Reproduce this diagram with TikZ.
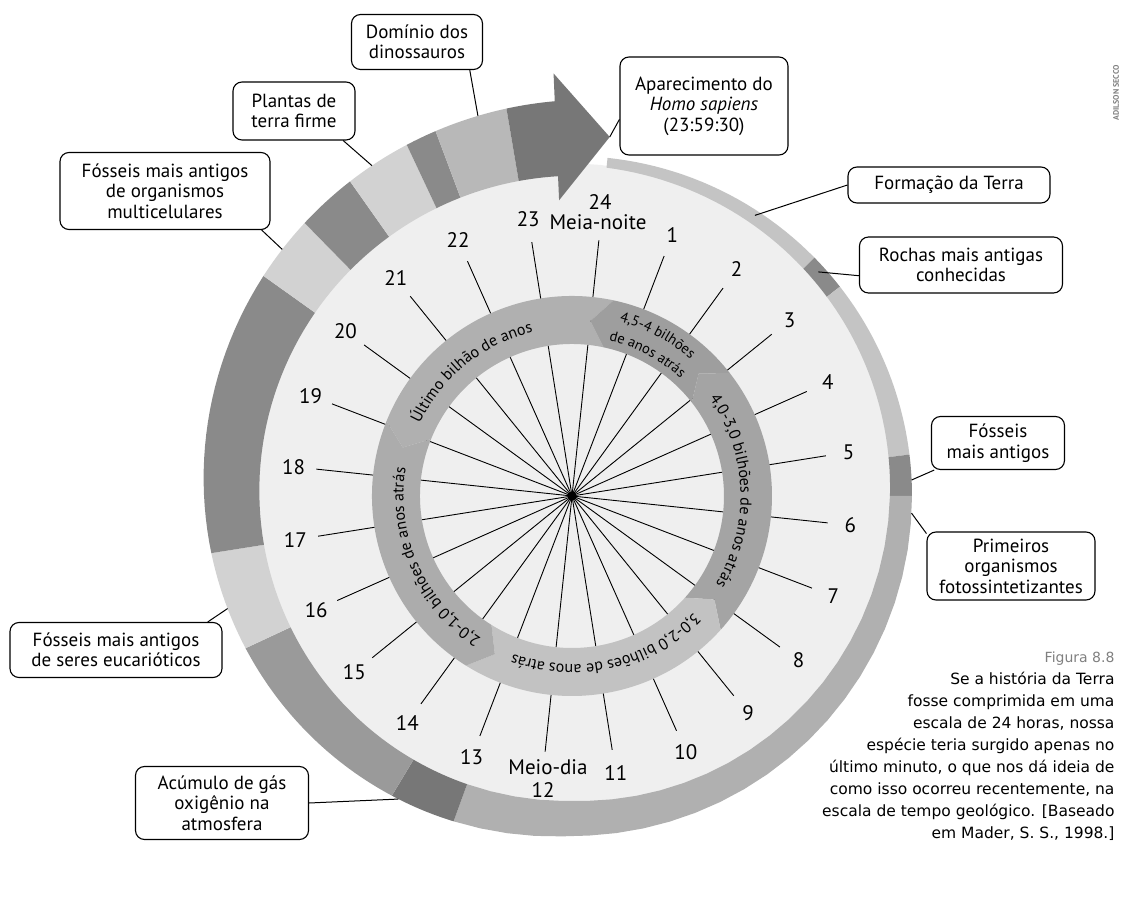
\documentclass[tikz,border=0pt]{standalone}
\usepackage{fontspec}
\setmainfont{PT Sans}
\newfontfamily\capfont{DejaVu Sans}
\usepackage{tikz}
\usetikzlibrary{decorations.text}
\definecolor{disc}{HTML}{EFEFEF}
\definecolor{ringpale}{HTML}{C4C4C4}
\definecolor{ringmid}{HTML}{B0B0B0}
\definecolor{ringlight}{HTML}{D2D2D2}
\definecolor{ringsoft}{HTML}{B8B8B8}
\definecolor{ringmed}{HTML}{9A9A9A}
\definecolor{ringdark}{HTML}{8A8A8A}
\definecolor{ringdeep}{HTML}{777777}
\definecolor{bandlast}{HTML}{B0B0B0}
\definecolor{bandfirst}{HTML}{9E9E9E}
\definecolor{bandsecond}{HTML}{A4A4A4}
\definecolor{bandthird}{HTML}{C2C2C2}
\definecolor{bandfourth}{HTML}{ACACAC}

\begin{document}
\begin{tikzpicture}[x=1pt,y=1pt,
  declare function={rin(\x)=(\x<180)*(331-0.145*\x)+(\x>=180)*(305+0.085*(\x-180));
                    rout(\x)=340+(\x>180)*(\x-180)*0.3107;},
  callout/.style={draw=black,line width=1.1pt,rounded corners=9pt,fill=white,align=center,
                  inner sep=2pt,font=\fontsize{19}{20.5}\selectfont},
  hournum/.style={font=\fontsize{21}{22}\selectfont},
  spoke/.style={line width=0.9pt},
  link/.style={line width=1pt},
  bandtext/.style={decorate,decoration={text along path,text align=center,
                  text={|\fontsize{16}{16}\selectfont|#1}}},
  bandsmall/.style={decorate,decoration={text along path,text align=center,
                  text={|\fontsize{14.5}{14.5}\selectfont|#1}}}]
\useasboundingbox (-572,-411) rectangle (552,496);

\fill[disc] plot[domain=0:360,samples=73] ({90-\x}:{rin(\x)+2}) -- cycle;

\coordinate (hub) at (0,0);
\foreach \h in {1,...,24}{
  \coordinate (s\h) at ({84-15*\h}:257);
  \draw[spoke] (hub) -- (s\h);
}
\fill[black] (hub) circle (4.5);

\foreach \ta/\tb/\col in {286/366/bandlast,6/46/bandfirst,46/126/bandsecond,126/206/bandthird,206/286/bandfourth}
  \fill[\col] ({84-\ta}:200) arc[start angle={84-\ta},end angle={84-\tb},radius=200]
    -- ({90-\tb}:176) -- ({84-\tb}:152)
    arc[start angle={84-\tb},end angle={84-\ta},radius=152] -- ({90-\ta}:176) -- cycle;

\begin{scope}
  \path[bandtext={Último bilhão de anos}] (-161:168.5) arc[start angle=-161,end angle=-301,radius=168.5];
  \path[bandsmall={4,5-4 bilhões}] (132:181) arc[start angle=132,end angle=-8,radius=181];
  \path[bandsmall={de anos atrás}] (132:160) arc[start angle=132,end angle=-8,radius=160];
  \path[bandtext={4,0-3,0 bilhões de anos atrás}] (72:168.5) arc[start angle=72,end angle=-68,radius=168.5];
  \path[bandtext={3,0-2,0 bilhões de anos atrás}] (-7:168.5) arc[start angle=-7,end angle=-147,radius=168.5];
  \path[bandtext={2,0-1,0 bilhões de anos atrás}] (-86:168.5) arc[start angle=-86,end angle=-226,radius=168.5];
\end{scope}

\foreach \a/\b/\c in {6/45.5/ringpale,45.5/52/ringdark,52/83/ringpale,83/90/ringdark,
    90/200/ringmid,200/211/ringdeep,211/245/ringmed,245/261/ringlight,261/305.5/ringdark,
    305.5/315.6/ringlight,315.6/324.8/ringdark,324.8/334.8/ringlight,334.8/339.5/ringdark,
    339.5/350.4/ringsoft,350.4/357.6/ringdeep}
  \fill[\c] plot[domain=\a:\b,samples=25] ({90-\x}:{rout(\x)})
    -- plot[domain=\b:\a,samples=25] ({90-\x}:{rin(\x)}) -- cycle;
\fill[ringdeep] ({90-357.5}:296) -- ({90-366}:361) -- ({90-357.5}:423) -- cycle;

\node[callout,minimum width=131,minimum height=55] (dominio) at (-155,454) {Domínio dos\\dinossauros};
\node[callout,minimum width=122,minimum height=58] (plantas) at (-278,385) {Plantas de\\terra firme};
\node[callout,minimum width=168,minimum height=98] (homo) at (132,390) {Aparecimento do\\\textit{Homo sapiens}\\(23:59:30)};
\node[callout,minimum width=202,minimum height=36] (formacao) at (377,311) {Formação da Terra};
\node[callout,minimum width=203,minimum height=56] (rochas) at (389,231) {Rochas mais antigas\\conhecidas};
\node[callout,minimum width=133,minimum height=53] (fosseis) at (426,53) {Fósseis\\mais antigos};
\node[callout,minimum width=168,minimum height=68] (primeiros) at (439,-70) {Primeiros\\organismos\\fotossintetizantes};
\node[callout,minimum width=210,minimum height=77] (multi) at (-407,305) {Fósseis mais antigos\\de organismos\\multicelulares};
\node[callout,minimum width=212,minimum height=55] (eucar) at (-456,-154) {Fósseis mais antigos\\de seres eucarióticos};
\node[callout,minimum width=173,minimum height=73] (acumulo) at (-350,-307) {Acúmulo de gás\\oxigênio na\\atmosfera};

\coordinate (cDominio) at ({90-346.1}:{rout(346.1)});
\coordinate (cPlantas) at ({90-328.8}:{rout(328.8)});
\coordinate (cHomo) at ({90-366}:361);
\coordinate (cFormacao) at ({90-33.1}:335);
\coordinate (cRochas) at ({90-47.7}:333);
\coordinate (cFosseis) at ({90-87.3}:{rout(87.3)});
\coordinate (cPrimeiros) at ({90-92.9}:{rout(92.9)});
\coordinate (cMulti) at ({90-310.4}:{rout(310.4)});
\coordinate (cEucar) at ({90-251.9}:{rout(251.9)});
\coordinate (cAcumulo) at ({90-209.8}:{rout(209.8)});

\draw[link] (dominio.-28) -- (cDominio);
\draw[link] (plantas.-31) -- (cPlantas);
\draw[link] (homo.189) -- (cHomo);
\draw[link] (formacao.west) -- (cFormacao);
\draw[link] (rochas.186) -- (cRochas);
\draw[link] (fosseis.203) -- (cFosseis);
\draw[link] (primeiros.159) -- (cPrimeiros);
\draw[link] (multi.-22) -- (cMulti);
\draw[link] (eucar.17) -- (cEucar);
\draw[link] (acumulo.east) -- (cAcumulo);

\foreach \h in {1,...,11,13,14,...,23}
  \node[hournum] (n\h) at ({84-15*\h}:280) {\h};
\node[hournum] (n24) at (28,294) {24};
\node[hournum] (meianoite) at (26,274) {Meia-noite};
\node[hournum] (n12) at (-29,-294) {12};
\node[hournum] (meiodia) at (-24,-271) {Meio-dia};

\node[anchor=north east,align=right,font=\capfont\fontsize{15.5}{22}\selectfont] (legenda) at (546,-152)
  {{\color{gray}\fontsize{14}{22}\selectfont Figura 8.8}\\Se a história da Terra\\fosse comprimida em uma\\escala de 24 horas, nossa\\espécie teria surgido apenas no\\último minuto, o que nos dá ideia de\\como isso ocorreu recentemente, na\\escala de tempo geológico. [Baseado\\em Mader, S. S., 1998.]};
\node[rotate=90,text=gray,font=\bfseries\fontsize{8}{8}\selectfont] (credito) at (544,403) {ADILSON SECCO};
\end{tikzpicture}
\end{document}
